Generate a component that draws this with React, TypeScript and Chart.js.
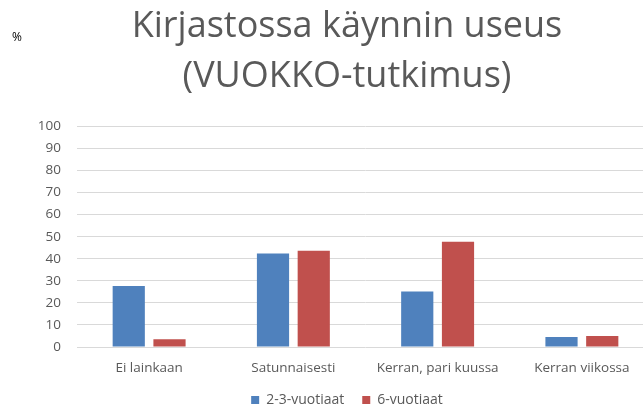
import React, { useEffect, useRef } from "react";
import { Chart, registerables } from "chart.js";

Chart.register(...registerables);

const categories = ["Ei lainkaan", "Satunnaisesti", "Kerran, pari kuussa", "Kerran viikossa"];
const seriesNames = ["2-3-vuotiaat", "6-vuotiaat"];
const toddlers = [27.7, 42.4, 25.2, 4.5];
const sixYearOlds = [3.5, 43.6, 47.7, 5.0];
const titleLines = ["Kirjastossa käynnin useus", "(VUOKKO-tutkimus)"];
const unitLabel = "%";

const FONT = "'Open Sans', 'Liberation Sans', sans-serif";
const GREY = "#595959";

const unitPlugin = {
  id: "unitLabel",
  afterDraw(chart: any) {
    const ctx = chart.ctx;
    ctx.save();
    ctx.font = `12px ${FONT}`;
    ctx.fillStyle = "#000000";
    ctx.textBaseline = "middle";
    ctx.textAlign = "left";
    ctx.fillText(unitLabel, 12, 38);
    ctx.restore();
  },
};

export default function App() {
  const ref = useRef<HTMLCanvasElement | null>(null);

  useEffect(() => {
    document.body.style.margin = "0";
    const canvas = ref.current;
    if (!canvas) return;
    const chart = new Chart(canvas, {
      type: "bar",
      data: {
        labels: categories,
        datasets: [
          {
            label: seriesNames[0],
            data: toddlers,
            backgroundColor: "#4F81BD",
            categoryPercentage: 0.565,
            barPercentage: 0.79,
          },
          {
            label: seriesNames[1],
            data: sixYearOlds,
            backgroundColor: "#C0504D",
            categoryPercentage: 0.565,
            barPercentage: 0.79,
          },
        ],
      },
      options: {
        responsive: false,
        animation: false,
        devicePixelRatio: 1,
        layout: { padding: 0 },
        plugins: {
          title: {
            display: true,
            text: titleLines,
            color: GREY,
            font: { family: FONT, size: 36, weight: "normal", lineHeight: 1.38 },
            padding: { top: 2, bottom: 25 },
          },
          legend: {
            position: "bottom",
            labels: {
              boxWidth: 8,
              boxHeight: 8,
              color: GREY,
              font: { family: FONT, size: 14 },
              padding: 18,
            },
          },
          tooltip: { enabled: false },
        },
        scales: {
          x: {
            grid: { display: false, drawTicks: false },
            border: { display: false },
            ticks: { color: GREY, font: { family: FONT, size: 13.5 }, padding: 13, maxRotation: 0 },
            afterFit(scale: any) {
              scale.height = 28;
              scale._computeLabelArea = () => undefined;
            },
          },
          y: {
            min: 0,
            max: 100,
            grid: { color: "#D9D9D9", lineWidth: 1, drawTicks: false },
            border: { display: false },
            ticks: { stepSize: 10, color: GREY, font: { family: FONT, size: 13.5 }, padding: 16 },
            afterFit(scale: any) {
              scale.width = 77;
            },
          },
          yRightSpace: {
            position: "right",
            display: true,
            grid: { display: false, drawTicks: false },
            border: { display: false },
            ticks: { display: false },
            afterFit(scale: any) {
              scale.width = 40;
            },
          },
        },
      },
      plugins: [unitPlugin],
    });
    return () => chart.destroy();
  }, []);

  return (
    <div style={{ width: 643, height: 410, overflow: "hidden", background: "#ffffff" }}>
      <canvas ref={ref} width={694} height={417} style={{ display: "block" }} />
    </div>
  );
}
